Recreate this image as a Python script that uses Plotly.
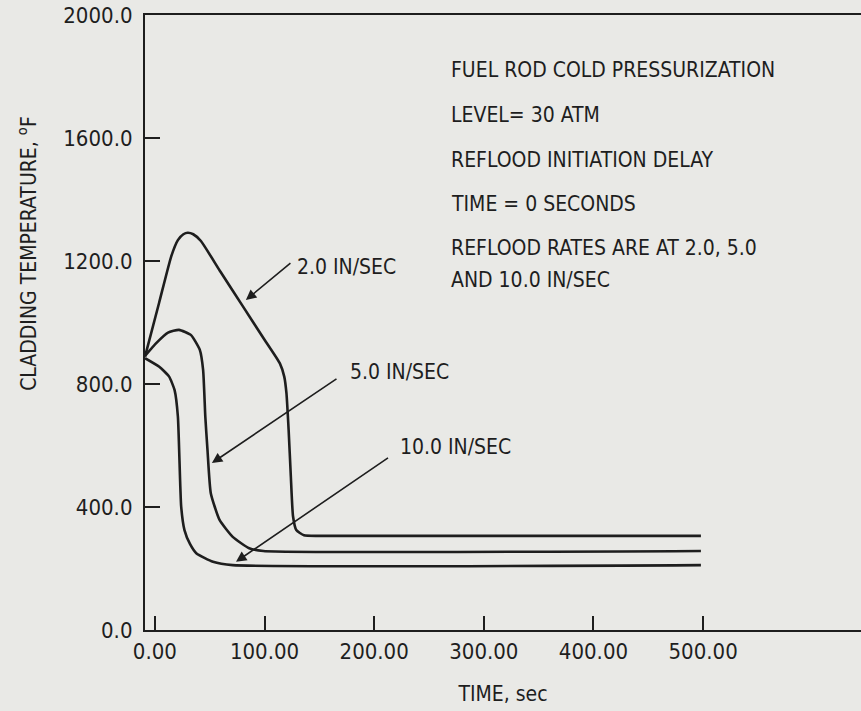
import plotly.graph_objects as go

# reflood curves (time in sec, temperature in F)
time_2in = [-9, 4, 15, 21, 26, 30, 35, 42, 60, 80, 100, 114, 118, 120, 122, 124, 126, 129, 136, 150, 498]
temp_2in = [889, 1066, 1216, 1268, 1287, 1292, 1287, 1265, 1164, 1054, 944, 867, 824, 770, 650, 500, 370, 325, 308, 306, 306]

time_5in = [-9, 1, 12, 22, 33, 41, 44, 46, 48, 51, 59, 71, 86, 99, 498]
temp_5in = [891, 932, 967, 976, 959, 911, 846, 694, 585, 445, 358, 303, 266, 257, 257]

time_10in = [-9, 4, 13, 18, 21, 24, 27, 32, 38, 53, 71, 498]
temp_10in = [884, 856, 824, 780, 694, 401, 325, 280, 249, 222, 211, 211]

x_ticks = [0, 100, 200, 300, 400, 500]
x_tick_text = ["0.00", "100.00", "200.00", "300.00", "400.00", "500.00"]
y_ticks = [0, 400, 800, 1200, 1600, 2000]
y_tick_text = ["0.0", "400.0", "800.0", "1200.0", "1600.0", "2000.0"]

info_lines = [
    "FUEL ROD COLD PRESSURIZATION",
    "LEVEL= 30 ATM",
    "REFLOOD INITIATION DELAY",
    "TIME = 0 SECONDS",
    "REFLOOD RATES ARE AT 2.0, 5.0",
    "AND 10.0 IN/SEC",
]
info_y = [0.911, 0.837, 0.764, 0.693, 0.621, 0.569]

# (label, arrow head t, T, arrow tail t, T, label t, T)
callouts = [
    ("2.0 IN/SEC", 83, 1073, 125, 1197, 128, 1180),
    ("5.0 IN/SEC", 52, 543, 167, 820, 176, 839),
    ("10.0 IN/SEC", 74, 222, 214, 563, 222, 595),
]

FONT = "DejaVu Sans Condensed, Liberation Sans Narrow, Arial Narrow, sans-serif"
INK = "#1e1e1e"
BG = "#e9e9e6"
X_RANGE = [-9, 644]
Y_RANGE = [0, 2000]

fig = go.Figure()
for t, T in [(time_2in, temp_2in), (time_5in, temp_5in), (time_10in, temp_10in)]:
    fig.add_trace(
        go.Scatter(
            x=t, y=T, mode="lines",
            line=dict(color=INK, width=2.6, shape="spline", smoothing=0.5),
            showlegend=False, hoverinfo="skip",
        )
    )

for label, hx, hy, tx, ty, lx, ly in callouts:
    fig.add_annotation(
        x=hx, y=hy, ax=tx, ay=ty, axref="x", ayref="y", xref="x", yref="y",
        text="", showarrow=True, arrowhead=2, arrowsize=1.3, arrowwidth=1.6, arrowcolor=INK,
    )
    fig.add_annotation(
        x=lx, y=ly, xref="x", yref="y", text=label, showarrow=False,
        xanchor="left", yanchor="middle", font=dict(family=FONT, size=21, color=INK),
    )

for line, yy in zip(info_lines, info_y):
    fig.add_annotation(
        x=0.424, y=yy, xref="paper", yref="paper", text=line, showarrow=False,
        xanchor="left", yanchor="middle", font=dict(family=FONT, size=21, color=INK),
    )

# rotated y title sits higher than the plot centre in the original
fig.add_annotation(
    x=-0.165, y=0.613, xref="paper", yref="paper", text="CLADDING TEMPERATURE, <sup>o</sup>F",
    textangle=-90, showarrow=False, xanchor="center", yanchor="middle",
    font=dict(family=FONT, size=21, color=INK),
)

fig.update_layout(
    width=861, height=711,
    margin=dict(l=145, r=0, t=15, b=81),
    paper_bgcolor=BG, plot_bgcolor=BG,
    font=dict(family=FONT, size=22, color=INK),
    xaxis=dict(
        range=X_RANGE, tickvals=x_ticks, ticktext=x_tick_text,
        ticks="inside", ticklen=14, tickwidth=1.6, tickcolor=INK,
        showline=True, linecolor=INK, linewidth=2.2, mirror=True,
        showgrid=False, zeroline=False,
        title=dict(text="TIME, sec", standoff=24, font=dict(size=21)),
    ),
    xaxis2=dict(
        range=X_RANGE, overlaying="x", anchor="y", side="bottom",
        tickvals=[200, 400], ticks="inside", ticklen=22, tickwidth=1.6, tickcolor=INK,
        showticklabels=False, showgrid=False, zeroline=False, showline=False,
    ),
    yaxis=dict(
        range=Y_RANGE, tickvals=y_ticks, ticktext=y_tick_text,
        ticks="inside", ticklen=15, tickwidth=1.6, tickcolor=INK,
        showline=True, linecolor=INK, linewidth=2.2, mirror=False,
        showgrid=False, zeroline=False, ticklabelstandoff=6,
    ),
    yaxis2=dict(
        range=Y_RANGE, overlaying="y", anchor="x", side="left",
        tickvals=[800, 1600], ticks="inside", ticklen=28, tickwidth=1.6, tickcolor=INK,
        showticklabels=False, showgrid=False, zeroline=False, showline=False,
    ),
)

fig.write_html(
    "out.html",
    config={"displayModeBar": False},
    post_script="document.body.style.margin='0';document.body.style.background='%s';" % BG,
)
